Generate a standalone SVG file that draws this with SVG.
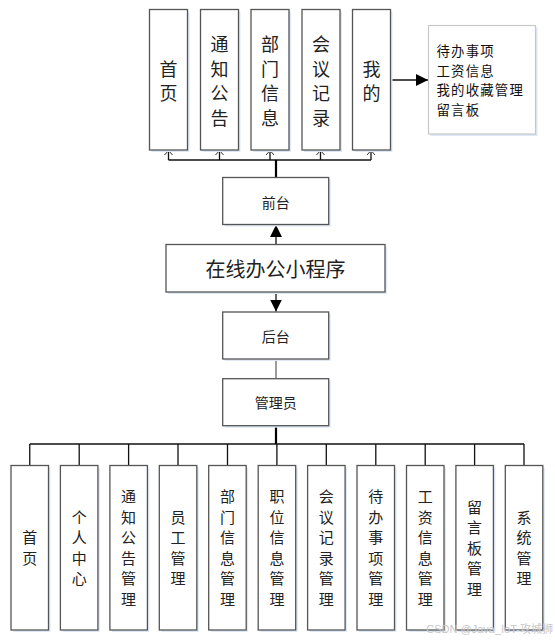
<svg xmlns="http://www.w3.org/2000/svg" width="555" height="641" viewBox="0 0 555 641">
<style>
.box{fill:#fff;stroke:#555;stroke-width:1.3}
.shadow{fill:#dfe8f5}
.t{font-family:"Noto Sans CJK SC","Liberation Sans",sans-serif;fill:#222;text-anchor:middle;dominant-baseline:central}
.tl{font-family:"Noto Sans CJK SC","Liberation Sans",sans-serif;fill:#111;font-size:13.4px;letter-spacing:1.2px}
.ln{stroke:#111;stroke-width:1.3;fill:none}
.thick{stroke:#000;stroke-width:2.2;fill:none}
.open{stroke:#333;stroke-width:1;fill:none}
</style>
<defs>
<marker id="fa" viewBox="0 0 10 10" refX="10" refY="5" markerWidth="12" markerHeight="12" markerUnits="userSpaceOnUse" orient="auto"><path d="M0,0 L10,5 L0,10 Z" fill="#000"/></marker>
</defs>
<rect width="555" height="641" fill="#fff"/>

<g id="connectors">
  <path class="ln" d="M168.5,160 H371"/>
  <path class="ln" d="M168.5,160 V151 M219.5,160 V151 M270,160 V151 M320.5,160 V151 M371,160 V151"/>
  <path class="open" d="M164.5,155 L168.5,150.5 L172.5,155 M215.5,155 L219.5,150.5 L223.5,155 M266,155 L270,150.5 L274,155 M316.5,155 L320.5,150.5 L324.5,155 M367,155 L371,150.5 L375,155"/>
  <path class="thick" d="M276,160 V177.5"/>
  <path class="ln" d="M390.5,80 H428" marker-end="url(#fa)" stroke-width="1.6"/>
  <path class="ln" d="M276,244 V225" marker-end="url(#fa)" stroke-width="1.6"/>
  <path class="ln" d="M276,292 V311.5" marker-end="url(#fa)" stroke-width="1.6"/>
  <path d="M276,359 V378.5" stroke="#666" stroke-width="1.3"/>
  <path class="thick" d="M276,425.5 V444"/>
  <path class="ln" d="M29.75,444 H524"/>
  <path class="ln" d="M29.75,444 V465 M79.2,444 V465 M128.6,444 V465 M178,444 V465 M227.5,444 V465 M276.9,444 V465 M326.3,444 V465 M375.8,444 V465 M425.2,444 V465 M474.6,444 V465 M524,444 V465"/>
</g>

<g id="n_shouye">
  <rect class="shadow" x="151.5" y="11.5" width="38" height="140.5"/>
  <rect class="box" x="149.5" y="9.5" width="38" height="140.5"/>
  <text class="t" font-size="18" x="168.5" y="67.75">首</text>
  <text class="t" font-size="18" x="168.5" y="92.25">页</text>
</g>
<g id="n_tongzhi">
  <rect class="shadow" x="202.5" y="11.5" width="38" height="140.5"/>
  <rect class="box" x="200.5" y="9.5" width="38" height="140.5"/>
  <text class="t" font-size="18" x="219.5" y="43.25">通</text>
  <text class="t" font-size="18" x="219.5" y="67.75">知</text>
  <text class="t" font-size="18" x="219.5" y="92.25">公</text>
  <text class="t" font-size="18" x="219.5" y="116.75">告</text>
</g>
<g id="n_bumen">
  <rect class="shadow" x="253" y="11.5" width="38" height="140.5"/>
  <rect class="box" x="251" y="9.5" width="38" height="140.5"/>
  <text class="t" font-size="18" x="270" y="43.25">部</text>
  <text class="t" font-size="18" x="270" y="67.75">门</text>
  <text class="t" font-size="18" x="270" y="92.25">信</text>
  <text class="t" font-size="18" x="270" y="116.75">息</text>
</g>
<g id="n_huiyi">
  <rect class="shadow" x="304" y="11.5" width="38" height="140.5"/>
  <rect class="box" x="302" y="9.5" width="38" height="140.5"/>
  <text class="t" font-size="18" x="321" y="43.25">会</text>
  <text class="t" font-size="18" x="321" y="67.75">议</text>
  <text class="t" font-size="18" x="321" y="92.25">记</text>
  <text class="t" font-size="18" x="321" y="116.75">录</text>
</g>
<g id="n_wode">
  <rect class="shadow" x="354.5" y="11.5" width="38" height="140.5"/>
  <rect class="box" x="352.5" y="9.5" width="38" height="140.5"/>
  <text class="t" font-size="18" x="371.5" y="67.75">我</text>
  <text class="t" font-size="18" x="371.5" y="92.25">的</text>
</g>
<g id="n_wode_list">
  <rect class="shadow" x="430.5" y="27.5" width="107" height="108.5"/>
  <rect x="428.5" y="25.5" width="107" height="108.5" fill="#fff" stroke="#c8c8c8" stroke-width="1.2"/>
  <text class="tl" x="436.5" y="50" dominant-baseline="central">待办事项</text>
  <text class="tl" x="436.5" y="69.5" dominant-baseline="central">工资信息</text>
  <text class="tl" x="436.5" y="89" dominant-baseline="central">我的收藏管理</text>
  <text class="tl" x="436.5" y="108.5" dominant-baseline="central">留言板</text>
</g>

<g id="n_qiantai">
  <rect class="shadow" x="224.7" y="179.5" width="106" height="47"/>
  <rect class="box" x="222.7" y="177.5" width="106" height="47"/>
  <text class="t" font-size="14" x="275.7" y="201.5">前台</text>
</g>
<g id="n_main">
  <rect class="shadow" x="168" y="246.5" width="219" height="47.5"/>
  <rect class="box" x="166" y="244.5" width="219" height="47.5"/>
  <text class="t" font-size="20" x="275.5" y="268.3" fill="#333">在线办公小程序</text>
</g>
<g id="n_houtai">
  <rect class="shadow" x="224.7" y="314" width="106" height="47"/>
  <rect class="box" x="222.7" y="312" width="106" height="47"/>
  <text class="t" font-size="14" x="275.7" y="335.5">后台</text>
</g>
<g id="n_admin">
  <rect class="shadow" x="224.7" y="380.7" width="106" height="47"/>
  <rect class="box" x="222.7" y="378.7" width="106" height="47"/>
  <text class="t" font-size="14" x="275.7" y="402.2">管理员</text>
</g>

<g id="b_shouye">
  <rect class="shadow" x="13" y="467.5" width="37.5" height="164.5"/>
  <rect class="box" x="11" y="465.5" width="37.5" height="164.5"/>
  <text class="t" font-size="15" x="29.75" y="536.75">首</text>
  <text class="t" font-size="15" x="29.75" y="557.25">页</text>
</g>
<g id="b_geren">
  <rect class="shadow" x="62.4" y="467.5" width="37.5" height="164.5"/>
  <rect class="box" x="60.4" y="465.5" width="37.5" height="164.5"/>
  <text class="t" font-size="15" x="79.2" y="516.25">个</text>
  <text class="t" font-size="15" x="79.2" y="536.75">人</text>
  <text class="t" font-size="15" x="79.2" y="557.25">中</text>
  <text class="t" font-size="15" x="79.2" y="577.75">心</text>
</g>
<g id="b_tongzhi">
  <rect class="shadow" x="111.9" y="467.5" width="37.5" height="164.5"/>
  <rect class="box" x="109.9" y="465.5" width="37.5" height="164.5"/>
  <text class="t" font-size="15" x="128.6" y="495.75">通</text>
  <text class="t" font-size="15" x="128.6" y="516.25">知</text>
  <text class="t" font-size="15" x="128.6" y="536.75">公</text>
  <text class="t" font-size="15" x="128.6" y="557.25">告</text>
  <text class="t" font-size="15" x="128.6" y="577.75">管</text>
  <text class="t" font-size="15" x="128.6" y="598.25">理</text>
</g>
<g id="b_yuangong">
  <rect class="shadow" x="161.3" y="467.5" width="37.5" height="164.5"/>
  <rect class="box" x="159.3" y="465.5" width="37.5" height="164.5"/>
  <text class="t" font-size="15" x="178" y="516.25">员</text>
  <text class="t" font-size="15" x="178" y="536.75">工</text>
  <text class="t" font-size="15" x="178" y="557.25">管</text>
  <text class="t" font-size="15" x="178" y="577.75">理</text>
</g>
<g id="b_bumen">
  <rect class="shadow" x="210.7" y="467.5" width="37.5" height="164.5"/>
  <rect class="box" x="208.7" y="465.5" width="37.5" height="164.5"/>
  <text class="t" font-size="15" x="227.5" y="495.75">部</text>
  <text class="t" font-size="15" x="227.5" y="516.25">门</text>
  <text class="t" font-size="15" x="227.5" y="536.75">信</text>
  <text class="t" font-size="15" x="227.5" y="557.25">息</text>
  <text class="t" font-size="15" x="227.5" y="577.75">管</text>
  <text class="t" font-size="15" x="227.5" y="598.25">理</text>
</g>
<g id="b_zhiwei">
  <rect class="shadow" x="260.2" y="467.5" width="37.5" height="164.5"/>
  <rect class="box" x="258.2" y="465.5" width="37.5" height="164.5"/>
  <text class="t" font-size="15" x="276.9" y="495.75">职</text>
  <text class="t" font-size="15" x="276.9" y="516.25">位</text>
  <text class="t" font-size="15" x="276.9" y="536.75">信</text>
  <text class="t" font-size="15" x="276.9" y="557.25">息</text>
  <text class="t" font-size="15" x="276.9" y="577.75">管</text>
  <text class="t" font-size="15" x="276.9" y="598.25">理</text>
</g>
<g id="b_huiyi">
  <rect class="shadow" x="309.6" y="467.5" width="37.5" height="164.5"/>
  <rect class="box" x="307.6" y="465.5" width="37.5" height="164.5"/>
  <text class="t" font-size="15" x="326.3" y="495.75">会</text>
  <text class="t" font-size="15" x="326.3" y="516.25">议</text>
  <text class="t" font-size="15" x="326.3" y="536.75">记</text>
  <text class="t" font-size="15" x="326.3" y="557.25">录</text>
  <text class="t" font-size="15" x="326.3" y="577.75">管</text>
  <text class="t" font-size="15" x="326.3" y="598.25">理</text>
</g>
<g id="b_daiban">
  <rect class="shadow" x="359" y="467.5" width="37.5" height="164.5"/>
  <rect class="box" x="357" y="465.5" width="37.5" height="164.5"/>
  <text class="t" font-size="15" x="375.8" y="495.75">待</text>
  <text class="t" font-size="15" x="375.8" y="516.25">办</text>
  <text class="t" font-size="15" x="375.8" y="536.75">事</text>
  <text class="t" font-size="15" x="375.8" y="557.25">项</text>
  <text class="t" font-size="15" x="375.8" y="577.75">管</text>
  <text class="t" font-size="15" x="375.8" y="598.25">理</text>
</g>
<g id="b_gongzi">
  <rect class="shadow" x="408.5" y="467.5" width="37.5" height="164.5"/>
  <rect class="box" x="406.5" y="465.5" width="37.5" height="164.5"/>
  <text class="t" font-size="15" x="425.2" y="495.75">工</text>
  <text class="t" font-size="15" x="425.2" y="516.25">资</text>
  <text class="t" font-size="15" x="425.2" y="536.75">信</text>
  <text class="t" font-size="15" x="425.2" y="557.25">息</text>
  <text class="t" font-size="15" x="425.2" y="577.75">管</text>
  <text class="t" font-size="15" x="425.2" y="598.25">理</text>
</g>
<g id="b_liuyan">
  <rect class="shadow" x="457.9" y="467.5" width="37.5" height="164.5"/>
  <rect class="box" x="455.9" y="465.5" width="37.5" height="164.5"/>
  <text class="t" font-size="15" x="474.6" y="506">留</text>
  <text class="t" font-size="15" x="474.6" y="526.5">言</text>
  <text class="t" font-size="15" x="474.6" y="547">板</text>
  <text class="t" font-size="15" x="474.6" y="567.5">管</text>
  <text class="t" font-size="15" x="474.6" y="588">理</text>
</g>
<g id="b_xitong">
  <rect class="shadow" x="507.3" y="467.5" width="37.5" height="164.5"/>
  <rect class="box" x="505.3" y="465.5" width="37.5" height="164.5"/>
  <text class="t" font-size="15" x="524" y="516.25">系</text>
  <text class="t" font-size="15" x="524" y="536.75">统</text>
  <text class="t" font-size="15" x="524" y="557.25">管</text>
  <text class="t" font-size="15" x="524" y="577.75">理</text>
</g>

<text x="553" y="633" text-anchor="end" font-family="'Liberation Sans','Noto Sans CJK SC',sans-serif" font-size="11" fill="#c8c8c8">CSDN @Java_IoT-攻城狮</text>
</svg>
